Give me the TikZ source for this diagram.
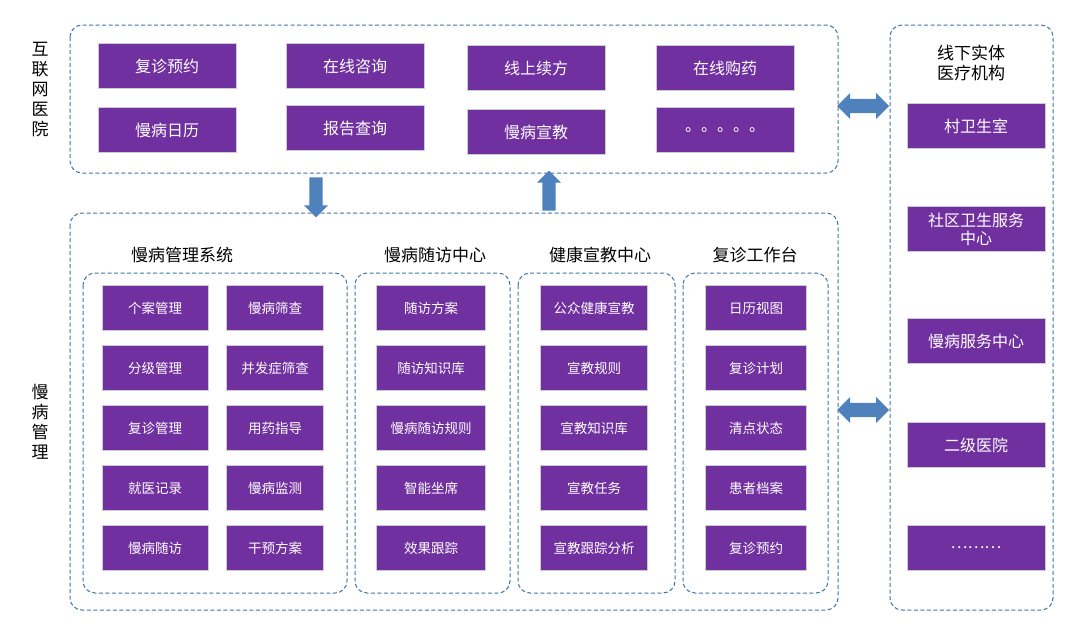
\documentclass[tikz,border=0pt]{standalone}
\usepackage{fontspec}
\setmainfont{Noto Sans CJK SC}
\usetikzlibrary{shapes.arrows,positioning}
\definecolor{boxpurple}{HTML}{7030A0}
\definecolor{dashblue}{HTML}{3F75A8}
\definecolor{arrowblue}{HTML}{4F81BD}
\begin{document}
\begin{tikzpicture}
	[
		x=1pt, y=-1pt,
		purplebox/.style={rectangle, draw=gray!40, fill=boxpurple, text=white, line width=1pt, font=\fontsize{16}{18}\selectfont, align=center},
		bigbox/.style={purplebox, minimum width=138pt, minimum height=45pt},
		smallbox/.style={purplebox, minimum height=45pt, font=\fontsize{13.5}{16}\selectfont},
		dashframe/.style={draw=dashblue, dash pattern=on 4pt off 2.5pt, line width=1pt, rounded corners=12pt},
		titletext/.style={font=\fontsize{17}{20}\selectfont, align=center},
		blockarrow/.style={single arrow, fill=arrowblue, draw=none, minimum height=40pt, minimum width=24pt, single arrow head extend=5pt, inner sep=6pt},
		twoarrow/.style={double arrow, fill=arrowblue, draw=none, minimum height=52pt, minimum width=26pt, double arrow head extend=5pt, inner sep=6pt},
	]
	\useasboundingbox (0,0) rectangle (1080,629);

	% frames
	\draw[dashframe] (70,25) rectangle (838,173);
	\draw[dashframe] (70,213) rectangle (838,610);
	\draw[dashframe] (890,25) rectangle (1053,610);
	\draw[dashframe] (83,273) rectangle (347,593);
	\draw[dashframe] (355,273) rectangle (510,593);
	\draw[dashframe] (518,273) rectangle (675,593);
	\draw[dashframe] (683,273) rectangle (828,593);

	% side labels
	\node[titletext] (hospital) at (40,90) {互\\联\\网\\医\\院};
	\node[titletext] (chronic) at (40,422) {慢\\病\\管\\理};
	\node[titletext] (offline) at (971,63) {线下实体\\医疗机构};

	% internet hospital
	\node[bigbox] (revisit) at (167,66) {复诊预约};
	\node[bigbox] (consult) at (355,66) {在线咨询};
	\node[bigbox] (renew) at (536,68) {线上续方};
	\node[bigbox] (buy) at (725,68) {在线购药};
	\node[bigbox] (calendar) at (167,130) {慢病日历};
	\node[bigbox] (report) at (355,128) {报告查询};
	\node[bigbox] (edu) at (536,132) {慢病宣教};
	\node[bigbox] (more) at (725,130) {。。。。。};

	% offline institutions
	\node[bigbox] (village) at (976,126) {村卫生室};
	\node[bigbox] (community) at (976,229) {社区卫生服务\\中心};
	\node[bigbox] (service) at (976,341) {慢病服务中心};
	\node[bigbox] (second) at (976,445) {二级医院};
	\node[bigbox] (dots) at (976,548) {………};

	% section titles
	\node[titletext] (systitle) at (182,255) {慢病管理系统};
	\node[titletext] (followtitle) at (435,255) {慢病随访中心};
	\node[titletext] (edutitle) at (600,255) {健康宣教中心};
	\node[titletext] (worktitle) at (755,255) {复诊工作台};

	% small boxes
	\foreach \name/\txt [count=\i] in {a1/个案管理, a2/分级管理, a3/复诊管理, a4/就医记录, a5/慢病随访}
		\node[smallbox, minimum width=106pt] (\name) at (155,248+60*\i) {\txt};
	\foreach \name/\txt [count=\i] in {b1/慢病筛查, b2/并发症筛查, b3/用药指导, b4/慢病监测, b5/干预方案}
		\node[smallbox, minimum width=97pt] (\name) at (275,248+60*\i) {\txt};
	\foreach \name/\txt [count=\i] in {c1/随访方案, c2/随访知识库, c3/慢病随访规则, c4/智能坐席, c5/效果跟踪}
		\node[smallbox, minimum width=109pt] (\name) at (431,248+60*\i) {\txt};
	\foreach \name/\txt [count=\i] in {d1/公众健康宣教, d2/宣教规则, d3/宣教知识库, d4/宣教任务, d5/宣教跟踪分析}
		\node[smallbox, minimum width=107pt] (\name) at (594,248+60*\i) {\txt};
	\foreach \name/\txt [count=\i] in {e1/日历视图, e2/复诊计划, e3/清点状态, e4/患者档案, e5/复诊预约}
		\node[smallbox, minimum width=101pt] (\name) at (756,248+60*\i) {\txt};

	% arrows
	\node[blockarrow, rotate=-90] (down) at (316,194) {};
	\node[blockarrow, rotate=90] (up) at (549,194) {};
	\node[twoarrow] (linktop) at (863,106) {};
	\node[twoarrow] (linkbottom) at (863,410) {};
\end{tikzpicture}
\end{document}
